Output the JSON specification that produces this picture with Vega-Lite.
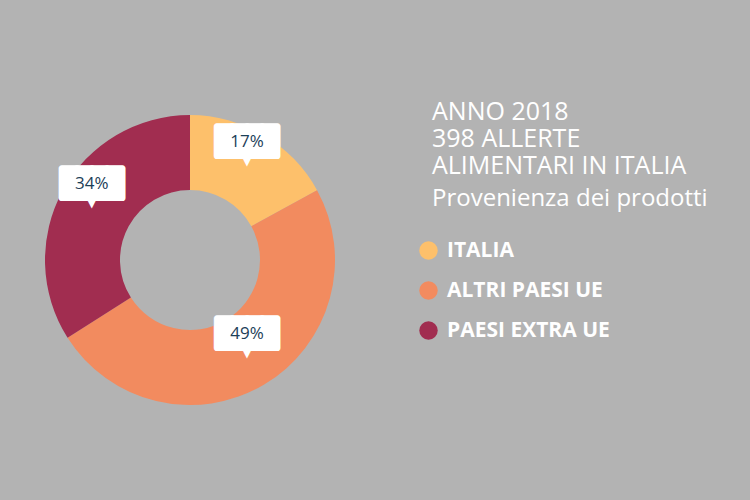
{
  "$schema": "https://vega.github.io/schema/vega-lite/v6.json",
  "width": 290,
  "height": 290,
  "autosize": {"type": "none"},
  "padding": {"left": 45, "top": 115, "right": 415, "bottom": 95},
  "background": "#b3b3b3",
  "config": {
    "view": {"stroke": null},
    "font": "Open Sans"
  },
  "title": {
    "text": ["ANNO 2018", "398 ALLERTE", "ALIMENTARI IN ITALIA"],
    "subtitle": "Provenienza dei prodotti",
    "anchor": "start",
    "frame": "group",
    "orient": "top",
    "dx": 387,
    "dy": 100,
    "font": "Open Sans",
    "fontSize": 25,
    "fontWeight": "normal",
    "lineHeight": 27,
    "color": "#ffffff",
    "subtitleFont": "Open Sans",
    "subtitleFontSize": 24,
    "subtitleColor": "#ffffff",
    "subtitlePadding": 8
  },
  "data": {
    "values": [
      {"provenienza": "ITALIA", "quota": 0.17, "ordine": 1},
      {"provenienza": "ALTRI PAESI UE", "quota": 0.49, "ordine": 2},
      {"provenienza": "PAESI EXTRA UE", "quota": 0.34, "ordine": 3}
    ]
  },
  "encoding": {
    "theta": {"field": "quota", "type": "quantitative", "stack": true},
    "order": {"field": "ordine", "type": "quantitative", "sort": "ascending"}
  },
  "layer": [
    {
      "mark": {"type": "arc", "innerRadius": 70, "outerRadius": 145},
      "encoding": {
        "color": {
          "field": "provenienza",
          "type": "nominal",
          "sort": ["ITALIA", "ALTRI PAESI UE", "PAESI EXTRA UE"],
          "scale": {
            "domain": ["ITALIA", "ALTRI PAESI UE", "PAESI EXTRA UE"],
            "range": ["#fdc06b", "#f28b5f", "#a12d50"]
          },
          "legend": {
            "title": null,
            "orient": "none",
            "legendX": 373,
            "legendY": 125,
            "padding": 0,
            "symbolType": "circle",
            "symbolSize": 340,
            "symbolStrokeWidth": 0,
            "symbolOpacity": 1,
            "labelFont": "Open Sans",
            "labelFontSize": 21,
            "labelFontWeight": "bold",
            "labelColor": "#ffffff",
            "labelOffset": 8,
            "rowPadding": 18,
            "labelLimit": 300
          }
        }
      }
    },
    {
      "mark": {"type": "text", "radius": 112, "dy": -22, "baseline": "middle", "align": "center", "fontSize": 25, "font": "DejaVu Sans Mono", "fill": "#ffffff", "stroke": "#ffffff", "strokeWidth": 6, "strokeJoin": "round", "text": "████"},
      "encoding": {}
    },
    {
      "mark": {"type": "text", "radius": 112, "dy": -3, "baseline": "middle", "fontSize": 13, "font": "DejaVu Sans", "fill": "#ffffff", "text": "▼"},
      "encoding": {}
    },
    {
      "mark": {"type": "text", "radius": 112, "dy": -22, "baseline": "middle", "fontSize": 17, "font": "Open Sans", "fill": "#1c4058"},
      "encoding": {"text": {"field": "quota", "type": "quantitative", "format": ".0%"}}
    }
  ]
}
